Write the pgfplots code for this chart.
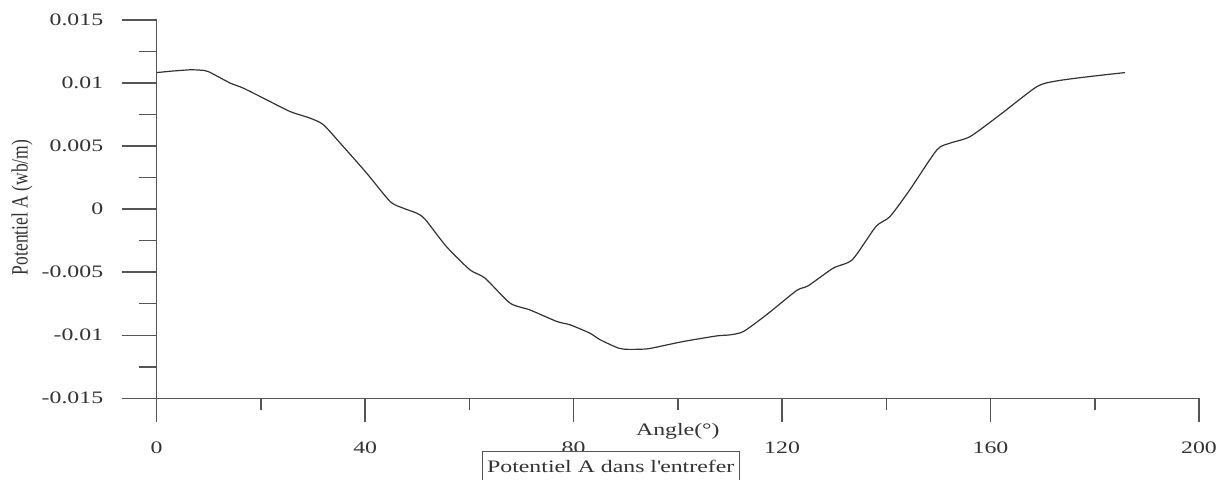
\documentclass[border=0pt]{standalone}
\usepackage{fontspec}
\setmainfont{Liberation Serif}[FakeStretch=1.36]
\newfontfamily\ylabfont{Liberation Serif}
\usepackage{pgfplots}
\pgfplotsset{compat=1.18}
\definecolor{axisgray}{HTML}{555555}
\definecolor{curvegray}{HTML}{333333}
\pgfplotstableread{
x y
0 0.01083
3 0.01095
6.4 0.01105
8.5 0.01102
9.9 0.01091
14.1 0.01000
16.6 0.00960
21.1 0.00867
25.6 0.00774
29.4 0.00722
32.0 0.00669
35.8 0.00496
40.3 0.00285
44.8 0.00060
47.3 0.00008
49.9 -0.00032
51.5 -0.00080
55.6 -0.00297
60.1 -0.00481
63.0 -0.00547
67.8 -0.00745
71.6 -0.00799
76.8 -0.00891
79.3 -0.00917
83.1 -0.00983
85.1 -0.01036
88.6 -0.01102
90.5 -0.01112
93.4 -0.01110
95.0 -0.01102
101.0 -0.01050
107.5 -0.01005
110.0 -0.00997
112.6 -0.00970
117.0 -0.00838
122.8 -0.00645
125.0 -0.00608
129.8 -0.00468
133.5 -0.00400
138.0 -0.00138
140.7 -0.00059
144.5 0.00153
149.7 0.00470
152.2 0.00523
156.1 0.00576
161.8 0.00748
168.9 0.00972
172.7 0.01017
179.1 0.01052
185.8 0.01083
}\datatable
\begin{document}
\begin{tikzpicture}
\useasboundingbox (-156.7bp,-81.7bp) rectangle (1069.3bp,398.3bp);
\begin{axis}[
  at={(0,0)}, anchor=south west,
  scale only axis, width=1042.3bp, height=378.3bp,
  xmin=0, xmax=200, ymin=-0.015, ymax=0.015,
  axis lines*=left,
  axis line style={axisgray, line width=1.5bp},
  tick style={axisgray, line width=1.5bp},
  tick align=outside,
  major tick length=35bp, minor tick length=18bp,
  major x tick style={/pgfplots/major tick length=24bp},
  minor x tick style={/pgfplots/minor tick length=12bp},
  xtick={0,40,80,120,160,200},
  xticklabels={0,40,80,120,160,200},
  minor xtick={20,60,100,140,180},
  ytick={-0.015,-0.01,-0.005,0,0.005,0.01,0.015},
  yticklabels={-0.015,-0.01,-0.005,0,0.005,0.01,0.015},
  minor ytick={-0.0125,-0.0075,-0.0025,0.0025,0.0075,0.0125},
  scaled y ticks=false, scaled x ticks=false,
  tick label style={font=\fontsize{17.5bp}{20bp}\selectfont, text=black!80},
  yticklabel style={xshift=-15bp},
  xticklabel style={yshift=-5bp},
  xlabel={Angle(°)},
  xlabel style={at={(axis description cs:0.5,0)}, anchor=center, yshift=-33.4bp, font=\fontsize{17.5bp}{20bp}\selectfont, text=black!80},
  ylabel={\scalebox{1}[1.33]{\ylabfont\fontsize{17.5bp}{20bp}\selectfont Potentiel A (wb/m)}},
  ylabel style={at={(axis description cs:-0.1292,0.5044)}, anchor=center, text=black!80},
  legend style={at={(axis description cs:0.3118,-0.1385)}, anchor=north west, draw=axisgray, line width=1bp, inner xsep=3bp, inner ysep=7bp, font=\fontsize{17.5bp}{20bp}\selectfont, text=black!80},
  legend cell align=left,
  legend image code/.code={},
]
\addplot[curvegray, line width=1.2bp, smooth, tension=0.4] table[x=x,y=y] {\datatable};
\addlegendentry{Potentiel A dans l\textquotesingle entrefer}
\end{axis}
\end{tikzpicture}
\end{document}
